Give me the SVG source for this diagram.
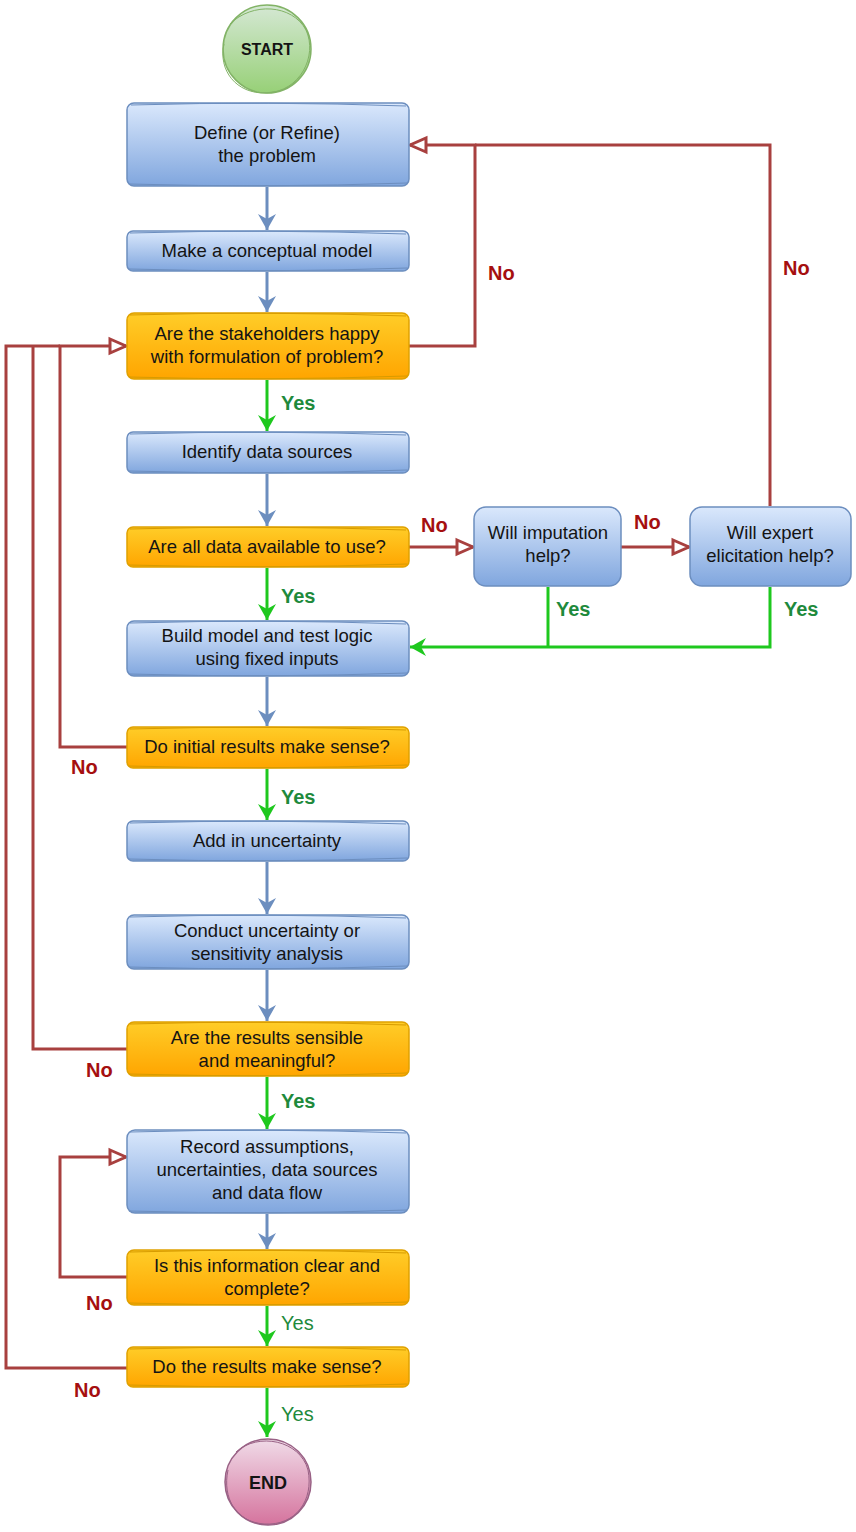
<svg xmlns="http://www.w3.org/2000/svg" width="856" height="1532" viewBox="0 0 856 1532">
<defs>
<linearGradient id="gBlue" x1="0" y1="0" x2="0" y2="1"><stop offset="0" stop-color="#dae8fc"/><stop offset="1" stop-color="#80a6de"/></linearGradient>
<linearGradient id="gOrange" x1="0" y1="0" x2="0" y2="1"><stop offset="0" stop-color="#ffcd28"/><stop offset="1" stop-color="#ffa500"/></linearGradient>
<linearGradient id="gGreen" x1="0" y1="0" x2="0" y2="1"><stop offset="0" stop-color="#d5e8d4"/><stop offset="1" stop-color="#97d077"/></linearGradient>
<linearGradient id="gPink" x1="0" y1="0" x2="0" y2="1"><stop offset="0" stop-color="#f0dbe8"/><stop offset="1" stop-color="#d5739d"/></linearGradient>
<marker id="mBlue" markerUnits="userSpaceOnUse" markerWidth="22" markerHeight="22" viewBox="0 0 22 22" refX="18" refY="11" orient="auto"><path d="M2,2 L18,11 L2,20 L7,11 Z" fill="#6c8ebf"/></marker>
<marker id="mGreen" markerUnits="userSpaceOnUse" markerWidth="22" markerHeight="22" viewBox="0 0 22 22" refX="18" refY="11" orient="auto"><path d="M2,2 L18,11 L2,20 L7,11 Z" fill="#1ec81e"/></marker>
<marker id="mRed" markerUnits="userSpaceOnUse" markerWidth="22" markerHeight="22" viewBox="0 0 22 22" refX="19" refY="11" orient="auto"><path d="M3,4 L19,11 L3,18 Z" fill="#ffffff" stroke="#a8403f" stroke-width="3" stroke-linejoin="miter"/></marker>
</defs>
<style>
.t{font-family:"Liberation Sans",Arial,sans-serif;font-size:18.5px;fill:#141414;text-anchor:middle}
.blue{fill:url(#gBlue);stroke:#6c8ebf;stroke-width:1.5}
.orange{fill:url(#gOrange);stroke:#e0a100;stroke-width:1.5}
.sk{fill:none;stroke-width:1}
.cb{fill:none;stroke:#6c8ebf;stroke-width:3;marker-end:url(#mBlue)}
.cg{fill:none;stroke:#1ec81e;stroke-width:3}
.cga{marker-end:url(#mGreen)}
.cr{fill:none;stroke:#a8403f;stroke-width:3}
.cra{marker-end:url(#mRed)}
.yes{font-family:"Liberation Sans",Arial,sans-serif;font-size:20px;font-weight:bold;fill:#1e8a3c}
.yesr{font-family:"Liberation Sans",Arial,sans-serif;font-size:20px;fill:#1e8a3c}
.no{font-family:"Liberation Sans",Arial,sans-serif;font-size:20px;font-weight:bold;fill:#a50f0f}
</style>

<g id="connectors">
<path class="cb" d="M267,187 V230"/>
<path class="cb" d="M267,272 V312"/>
<path class="cb" d="M267,474 V526"/>
<path class="cb" d="M267,677 V726"/>
<path class="cb" d="M267,862 V914"/>
<path class="cb" d="M267,970 V1021"/>
<path class="cb" d="M267,1214 V1249"/>
<path class="cg cga" d="M267,380 V431"/>
<path class="cg cga" d="M267,568 V620"/>
<path class="cg cga" d="M267,769 V820"/>
<path class="cg cga" d="M267,1077 V1129"/>
<path class="cg cga" d="M267,1306 V1346"/>
<path class="cg cga" d="M267,1388 V1437"/>
<path class="cg" d="M548,587 V647"/>
<path class="cg cga" d="M770,587 V647 H410"/>
<path class="cr cra" d="M409,346 H475 V145 H410"/>
<path class="cr" d="M770,506 V145 H475"/>
<path class="cr cra" d="M409,547 H473"/>
<path class="cr cra" d="M621,547 H689"/>
<path class="cr cra" d="M127,747 H60 V346 H126"/>
<path class="cr" d="M127,1049 H33 V346"/>
<path class="cr" d="M127,1368 H6 V346 H60"/>
<path class="cr cra" d="M127,1277 H60 V1157 H126"/>
<text class="yes" x="281" y="410">Yes</text>
<text class="yes" x="281" y="603">Yes</text>
<text class="yes" x="281" y="804">Yes</text>
<text class="yes" x="281" y="1108">Yes</text>
<text class="yesr" x="281" y="1330">Yes</text>
<text class="yesr" x="281" y="1421">Yes</text>
<text class="yes" x="556" y="616">Yes</text>
<text class="yes" x="784" y="616">Yes</text>
<text class="no" x="488" y="280">No</text>
<text class="no" x="783" y="275">No</text>
<text class="no" x="421" y="532">No</text>
<text class="no" x="634" y="529">No</text>
<text class="no" x="71" y="774">No</text>
<text class="no" x="86" y="1077">No</text>
<text class="no" x="86" y="1310">No</text>
<text class="no" x="74" y="1397">No</text>
</g>

<g id="start">
<circle cx="267" cy="49" r="44" fill="url(#gGreen)" stroke="#82b366" stroke-width="1.5"/>
<path class="sk" stroke="#82b366" d="M230,24 C252,2 292,4 306,30 C318,56 300,92 266,93 C236,94 218,70 224,44"/>
<text x="267" y="55" font-family="Liberation Sans,Arial,sans-serif" font-size="16" font-weight="bold" fill="#141414" text-anchor="middle">START</text>
</g>

<g id="define">
<rect class="blue" x="127" y="103" width="282" height="83" rx="7"/>
<path class="sk" stroke="#6c8ebf" d="M131,105 Q268,101 406,106 M129,184 Q268,188 407,183"/>
<text class="t" x="267" y="139">Define (or Refine)</text>
<text class="t" x="267" y="162">the problem</text>
</g>

<g id="conceptual">
<rect class="blue" x="127" y="231" width="282" height="40" rx="6"/>
<path class="sk" stroke="#6c8ebf" d="M130,233 Q268,229 406,234 M129,269 Q268,273 407,268"/>
<text class="t" x="267" y="257">Make a conceptual model</text>
</g>

<g id="stakeholders">
<rect class="orange" x="127" y="313" width="282" height="66" rx="7"/>
<path class="sk" stroke="#d79b00" d="M130,315 Q268,311 406,316 M129,377 Q268,381 407,376"/>
<text class="t" x="267" y="340">Are the stakeholders happy</text>
<text class="t" x="267" y="363">with formulation of problem?</text>
</g>

<g id="identify">
<rect class="blue" x="127" y="432" width="282" height="41" rx="6"/>
<path class="sk" stroke="#6c8ebf" d="M130,434 Q268,430 406,435 M129,471 Q268,475 407,470"/>
<text class="t" x="267" y="458">Identify data sources</text>
</g>

<g id="available">
<rect class="orange" x="127" y="527" width="282" height="40" rx="6"/>
<path class="sk" stroke="#d79b00" d="M130,529 Q268,525 406,530 M129,565 Q268,569 407,564"/>
<text class="t" x="267" y="553">Are all data available to use?</text>
</g>

<g id="imputation">
<rect class="blue" x="474" y="507" width="147" height="79" rx="12"/>
<text class="t" x="548" y="539">Will imputation</text>
<text class="t" x="548" y="562">help?</text>
</g>

<g id="expert">
<rect class="blue" x="690" y="507" width="161" height="79" rx="12"/>
<text class="t" x="770" y="539">Will expert</text>
<text class="t" x="770" y="562">elicitation help?</text>
</g>

<g id="build">
<rect class="blue" x="127" y="621" width="282" height="55" rx="7"/>
<path class="sk" stroke="#6c8ebf" d="M130,623 Q268,619 406,624 M129,674 Q268,678 407,673"/>
<text class="t" x="267" y="642">Build model and test logic</text>
<text class="t" x="267" y="665">using fixed inputs</text>
</g>

<g id="initial">
<rect class="orange" x="127" y="727" width="282" height="41" rx="6"/>
<path class="sk" stroke="#d79b00" d="M130,729 Q268,725 406,730 M129,766 Q268,770 407,765"/>
<text class="t" x="267" y="753">Do initial results make sense?</text>
</g>

<g id="uncertainty">
<rect class="blue" x="127" y="821" width="282" height="40" rx="6"/>
<path class="sk" stroke="#6c8ebf" d="M130,823 Q268,819 406,824 M129,859 Q268,863 407,858"/>
<text class="t" x="267" y="847">Add in uncertainty</text>
</g>

<g id="conduct">
<rect class="blue" x="127" y="915" width="282" height="54" rx="7"/>
<path class="sk" stroke="#6c8ebf" d="M130,917 Q268,913 406,918 M129,967 Q268,971 407,966"/>
<text class="t" x="267" y="937">Conduct uncertainty or</text>
<text class="t" x="267" y="960">sensitivity analysis</text>
</g>

<g id="sensible">
<rect class="orange" x="127" y="1022" width="282" height="54" rx="7"/>
<path class="sk" stroke="#d79b00" d="M130,1024 Q268,1020 406,1025 M129,1074 Q268,1078 407,1073"/>
<text class="t" x="267" y="1044">Are the results sensible</text>
<text class="t" x="267" y="1067">and meaningful?</text>
</g>

<g id="record">
<rect class="blue" x="127" y="1130" width="282" height="83" rx="8"/>
<path class="sk" stroke="#6c8ebf" d="M130,1132 Q268,1128 406,1133 M129,1211 Q268,1215 407,1210"/>
<text class="t" x="267" y="1153">Record assumptions,</text>
<text class="t" x="267" y="1176">uncertainties, data sources</text>
<text class="t" x="267" y="1199">and data flow</text>
</g>

<g id="clear">
<rect class="orange" x="127" y="1250" width="282" height="55" rx="7"/>
<path class="sk" stroke="#d79b00" d="M130,1252 Q268,1248 406,1253 M129,1303 Q268,1307 407,1302"/>
<text class="t" x="267" y="1272">Is this information clear and</text>
<text class="t" x="267" y="1295">complete?</text>
</g>

<g id="makesense">
<rect class="orange" x="127" y="1347" width="282" height="40" rx="6"/>
<path class="sk" stroke="#d79b00" d="M130,1349 Q268,1345 406,1350 M129,1385 Q268,1389 407,1384"/>
<text class="t" x="267" y="1373">Do the results make sense?</text>
</g>

<g id="end">
<circle cx="268" cy="1482" r="43" fill="url(#gPink)" stroke="#996185" stroke-width="1.5"/>
<path class="sk" stroke="#996185" d="M236,1452 C258,1432 300,1440 308,1470 C314,1500 296,1526 264,1524 C236,1522 222,1498 228,1470"/>
<text x="268" y="1489" font-family="Liberation Sans,Arial,sans-serif" font-size="18" font-weight="bold" fill="#141414" text-anchor="middle">END</text>
</g>
</svg>
